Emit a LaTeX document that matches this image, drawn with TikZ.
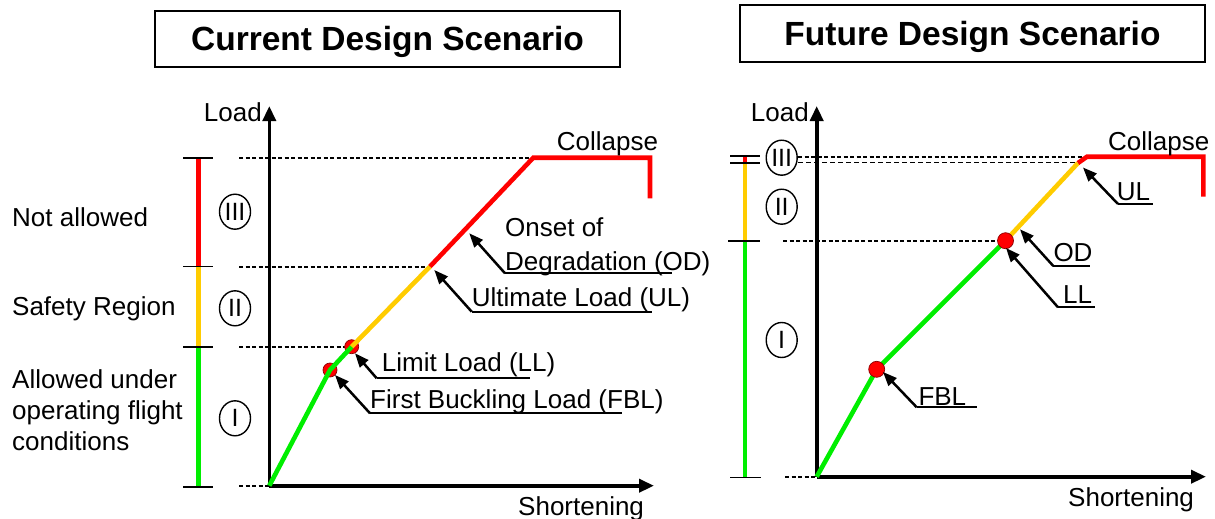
\documentclass[tikz,border=0pt]{standalone}
\usepackage{fontspec}
\setmainfont{Liberation Sans}
\usetikzlibrary{arrows.meta,shapes.geometric}
\definecolor{lgreen}{RGB}{0,238,0}
\definecolor{lorange}{RGB}{255,204,0}
\definecolor{lred}{RGB}{255,0,0}
\tikzset{
  lbl/.style={inner sep=0pt, anchor=base west, font=\fontsize{26}{31}\selectfont},
  lble/.style={lbl, anchor=base east},
  titletxt/.style={inner sep=0pt, anchor=base, font=\fontsize{33.5}{40}\selectfont\bfseries},
  axis/.style={line width=3.6pt, -{Triangle[length=15pt,width=13pt]}},
  curve/.style={line width=4.6pt},
  bar/.style={line width=4.4pt},
  tick/.style={line width=1.6pt},
  level/.style={line width=2pt, dash pattern=on 4pt off 2.5pt},
  levelthin/.style={line width=1.3pt, dash pattern=on 5pt off 3pt},
  region/.style={draw, ellipse, line width=1.4pt, minimum width=31pt, minimum height=35pt, inner sep=0pt, font=\fontsize{25}{30}\selectfont},
  pt/.style={circle, fill=lred, draw=lred!55!black, line width=0.7pt, minimum size=14pt, inner sep=0pt},
  callout/.style={line width=2.5pt, {Triangle[length=14pt,width=11pt]}-},
  uline/.style={line width=1.7pt}
}
\begin{document}
\begin{tikzpicture}[x=1pt,y=-1pt]
\useasboundingbox (0,0) rectangle (1215,519);

% ---------- titles ----------
\draw[line width=1.6pt] (155,11) rectangle (620,67);
\node[titletxt] (t1) at (387.5,51) {Current Design Scenario};
\draw[line width=1.6pt] (740,5) rectangle (1205,62);
\node[titletxt] (t2) at (972.5,46) {Future Design Scenario};

% =============== current design ===============
\coordinate (O1) at (269.3,485.7);
\coordinate (F1) at (330,370);
\coordinate (L1) at (351.7,346.7);
\coordinate (U1) at (430,266.5);
\coordinate (T1) at (533.3,157.7);
\coordinate (C1) at (650,157.7);
\coordinate (D1) at (650,198.3);

% dashed levels
\draw[level] (239,157.7) -- (T1);
\draw[level] (239,266.5) -- (U1);
\draw[level] (239,346.7) -- (L1);
\draw[level] (239,485.7) -- (O1);

% axes
\coordinate (Y1) at (269.3,106);
\coordinate (X1) at (654,485.7);
\draw[axis] (O1) -- (Y1);
\draw[axis] (O1) -- (X1);
\node[lble] (load1) at (262,121.7) {Load};
\node[lbl] (short1) at (518,515) {Shortening};

% region bar
\draw[bar, lred] (198.3,157.7) -- (198.3,266.5);
\draw[bar, lorange] (198.3,266.5) -- (198.3,346.7);
\draw[bar, lgreen] (198.3,346.7) -- (198.3,486.7);
\foreach \yy in {157.7,266.5,346.7,486.7} \draw[tick] (183,\yy) -- (213,\yy);

\node[region] (r3a) at (235,211.7) {III};
\node[region] (r2a) at (235,308.3) {II};
\node[region] (r1a) at (235,418.3) {I};

\node[lbl] (na) at (12,226.7) {Not allowed};
\node[lbl] (sr) at (12,315) {Safety Region};
\node[lbl] (au1) at (12,388) {Allowed under};
\node[lbl] (au2) at (12,419) {operating flight};
\node[lbl] (au3) at (12,450) {conditions};

% points under the curve
\node[pt] (fbl1) at (F1) {};
\node[pt] (ll1) at (L1) {};

% load-shortening curve
\draw[curve, lgreen] (O1) -- (F1) -- (L1);
\draw[curve, lorange] (L1) -- (U1);
\draw[curve, lred] (U1) -- (T1) -- (C1) -- (D1);
\node[lbl] (col1) at (556.7,150) {Collapse};

% callouts
\coordinate (odTip1) at (469.3,233.3);
\coordinate (odEl1) at (505,273.3);
\coordinate (odEnd1) at (671.7,273.3);
\draw[callout] (odTip1) -- (odEl1);
\draw[uline] (odEl1) -- (odEnd1);
\node[lbl] (odA) at (505,236.7) {Onset of};
\node[lbl] (odB) at (505,270) {Degradation (OD)};

\coordinate (ulTip1) at (434.3,270);
\coordinate (ulEl1) at (471.7,311.7);
\coordinate (ulEnd1) at (651.7,311.7);
\draw[callout] (ulTip1) -- (ulEl1);
\draw[uline] (ulEl1) -- (ulEnd1);
\node[lbl] (ulA) at (471.7,306.7) {Ultimate Load (UL)};

\coordinate (llTip1) at (355,353.3);
\coordinate (llEl1) at (376.7,378.3);
\coordinate (llEnd1) at (530,378.3);
\draw[callout] (llTip1) -- (llEl1);
\draw[uline] (llEl1) -- (llEnd1);
\node[lbl] (llA) at (381.7,371.7) {Limit Load (LL)};

\coordinate (fbTip1) at (335,375);
\coordinate (fbEl1) at (370,413.3);
\coordinate (fbEnd1) at (621.7,413.3);
\draw[callout] (fbTip1) -- (fbEl1);
\draw[uline] (fbEl1) -- (fbEnd1);
\node[lbl] (fbA) at (370,408.3) {First Buckling Load (FBL)};

% =============== future design ===============
\coordinate (O2) at (816.7,476.7);
\coordinate (F2) at (876.7,369.3);
\coordinate (L2) at (1005.5,240.7);
\coordinate (U2) at (1078,163);
\coordinate (T2) at (1087,156.7);
\coordinate (C2) at (1203.3,156.7);
\coordinate (D2) at (1203.3,196.7);

% dashed levels
\draw[level] (798,156.7) -- (T2);
\draw[levelthin] (798,162.7) -- (1076,162.7);
\draw[level] (783,240.7) -- (L2);
\draw[level] (785,476.7) -- (O2);

% axes
\coordinate (Y2) at (816.7,106);
\coordinate (X2) at (1206,476.7);
\draw[axis] (O2) -- (Y2);
\draw[axis] (O2) -- (X2);
\node[lble] (load2) at (809,121.7) {Load};
\node[lbl] (short2) at (1068,506.7) {Shortening};

% region bar
\draw[bar, lred] (745,156) -- (745,163);
\draw[bar, lorange] (745,163) -- (745,240.7);
\draw[bar, lgreen] (745,240.7) -- (745,477.5);
\draw[tick] (730,156) -- (760,156);
\draw[tick] (730,162.7) -- (760,162.7);
\draw[tick] (728,240.7) -- (760,240.7);
\draw[tick] (730,477.5) -- (761,477.5);

\node[region, fill=white] (r3b) at (781.7,157.7) {III};
\node[region] (r2b) at (781.7,206.7) {II};
\node[region] (r1b) at (781.7,340) {I};

% load-shortening curve
\draw[curve, lgreen] (O2) -- (F2) -- (L2);
\draw[curve, lorange] (L2) -- (U2);
\draw[curve, lred] (U2) -- (T2) -- (C2) -- (D2);
\node[pt, minimum size=16pt] (fbl2) at (F2) {};
\node[pt, minimum size=16pt] (ll2) at (L2) {};
\node[lbl] (col2) at (1108,150) {Collapse};

% callouts
\coordinate (ulTip2) at (1083,167.5);
\coordinate (ulEl2) at (1118,204);
\coordinate (ulEnd2) at (1153.3,204);
\draw[callout] (ulTip2) -- (ulEl2);
\draw[uline] (ulEl2) -- (ulEnd2);
\node[lbl] (ulB) at (1116.7,200) {UL};

\coordinate (odTip2) at (1020,229.3);
\coordinate (odEl2) at (1053.3,266);
\coordinate (odEnd2) at (1090,266);
\draw[callout] (odTip2) -- (odEl2);
\draw[uline] (odEl2) -- (odEnd2);
\node[lbl] (odC) at (1053.3,261.7) {OD};

\coordinate (llTip2) at (1006,248);
\coordinate (llEl2) at (1058,307.3);
\coordinate (llEnd2) at (1095,307.3);
\draw[callout] (llTip2) -- (llEl2);
\draw[uline] (llEl2) -- (llEnd2);
\node[lbl] (llB) at (1063,303.3) {LL};

\coordinate (fbTip2) at (883,372);
\coordinate (fbEl2) at (916.7,407.3);
\coordinate (fbEnd2) at (976.7,407.3);
\draw[callout] (fbTip2) -- (fbEl2);
\draw[uline] (fbEl2) -- (fbEnd2);
\node[lbl] (fbB) at (918.3,405) {FBL};
\end{tikzpicture}
\end{document}
